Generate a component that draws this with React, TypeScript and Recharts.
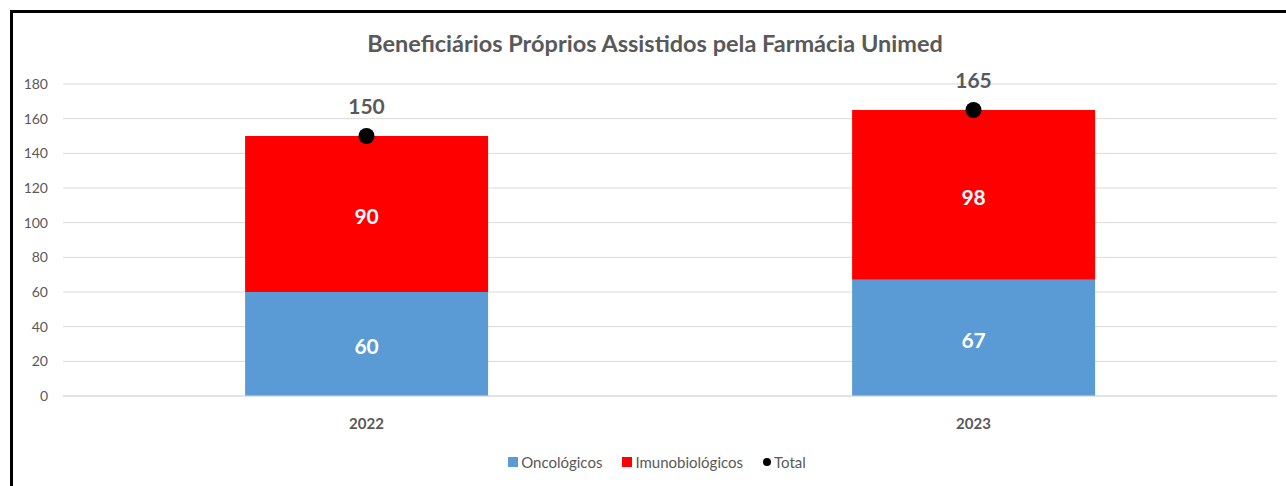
import React from 'react';
import { ComposedChart, Bar, Line, XAxis, YAxis, CartesianGrid, Legend, LabelList } from 'recharts';

const years = ['2022', '2023'];
const oncologicos = [60, 67];
const imunobiologicos = [90, 98];
const totals = [150, 165];
const yTicks = [0, 20, 40, 60, 80, 100, 120, 140, 160, 180];

const legendItems = [
  { name: 'Oncológicos', color: '#5B9BD5', shape: 'square' },
  { name: 'Imunobiológicos', color: '#FF0000', shape: 'square' },
  { name: 'Total', color: '#000000', shape: 'circle' },
];

const data = years.map((y, i) => ({
  year: y,
  onc: oncologicos[i],
  imu: imunobiologicos[i],
  total: totals[i],
}));

const FONT = 'Lato, "Open Sans", sans-serif';
const GRAY = '#595959';

const LegendContent = () => (
  <div style={{ display: 'flex', justifyContent: 'center', alignItems: 'center', gap: 20, fontFamily: FONT, fontSize: 15, color: GRAY }}>
    {legendItems.map((it) => (
      <div key={it.name} style={{ display: 'flex', alignItems: 'center', gap: 3 }}>
        <span style={{ display: 'inline-block', width: it.shape === 'circle' ? 8 : 10, height: it.shape === 'circle' ? 8 : 10, background: it.color, borderRadius: it.shape === 'circle' ? '50%' : 0 }} />
        <span>{it.name}</span>
      </div>
    ))}
  </div>
);

export default function App() {
  return (
    <div style={{ position: 'absolute', left: 0, top: 0, width: 1286, height: 486, background: '#fff', fontFamily: FONT }}>
      <div style={{ position: 'absolute', left: 10, top: 10, width: 1276, height: 476, borderLeft: '3px solid #000', borderTop: '3px solid #000', boxSizing: 'border-box' }} />
      <div style={{ position: 'absolute', left: 0, top: 29, width: 1310, textAlign: 'center', fontSize: 23.5, fontWeight: 700, color: GRAY }}>
        Beneficiários Próprios Assistidos pela Farmácia Unimed
      </div>
      <div style={{ position: 'absolute', left: 0, top: 0 }}>
        <ComposedChart width={1286} height={486} data={data} margin={{ top: 84, right: 9, left: 0, bottom: 30 }} barCategoryGap="30%">
          <CartesianGrid vertical={false} stroke="#D9D9D9" strokeWidth={1} />
          <XAxis dataKey="year" axisLine={{ stroke: '#D9D9D9' }} tickLine={false} height={30} tickMargin={16}
            tick={{ fill: GRAY, fontSize: 15, fontWeight: 700, fontFamily: FONT }} />
          <YAxis width={63} domain={[0, 180]} ticks={yTicks} axisLine={false} tickLine={false} tickSize={0} tickMargin={15}
            tick={{ fill: GRAY, fontSize: 14, fontFamily: FONT }} interval={0} />
          <Legend verticalAlign="bottom" height={30} content={<LegendContent />}
            wrapperStyle={{ top: 453, left: 14, width: 1286 }} />
          <Bar dataKey="onc" name="Oncológicos" stackId="a" fill="#5B9BD5" legendType="square" isAnimationActive={false}>
            <LabelList dataKey="onc" position="center" fill="#fff" fontSize={21} fontWeight={700} fontFamily={FONT} dy={3} />
          </Bar>
          <Bar dataKey="imu" name="Imunobiológicos" stackId="a" fill="#FF0000" legendType="square" isAnimationActive={false}>
            <LabelList dataKey="imu" position="center" fill="#fff" fontSize={21} fontWeight={700} fontFamily={FONT} dy={3} />
          </Bar>
          <Line dataKey="total" name="Total" stroke="#000" strokeWidth={0} legendType="circle"
            dot={{ r: 8, fill: '#000', stroke: '#000', strokeWidth: 0 }} activeDot={false} isAnimationActive={false}>
            <LabelList dataKey="total" position="top" offset={22} fill={GRAY} fontSize={21} fontWeight={700} fontFamily={FONT} />
          </Line>
        </ComposedChart>
      </div>
    </div>
  );
}
